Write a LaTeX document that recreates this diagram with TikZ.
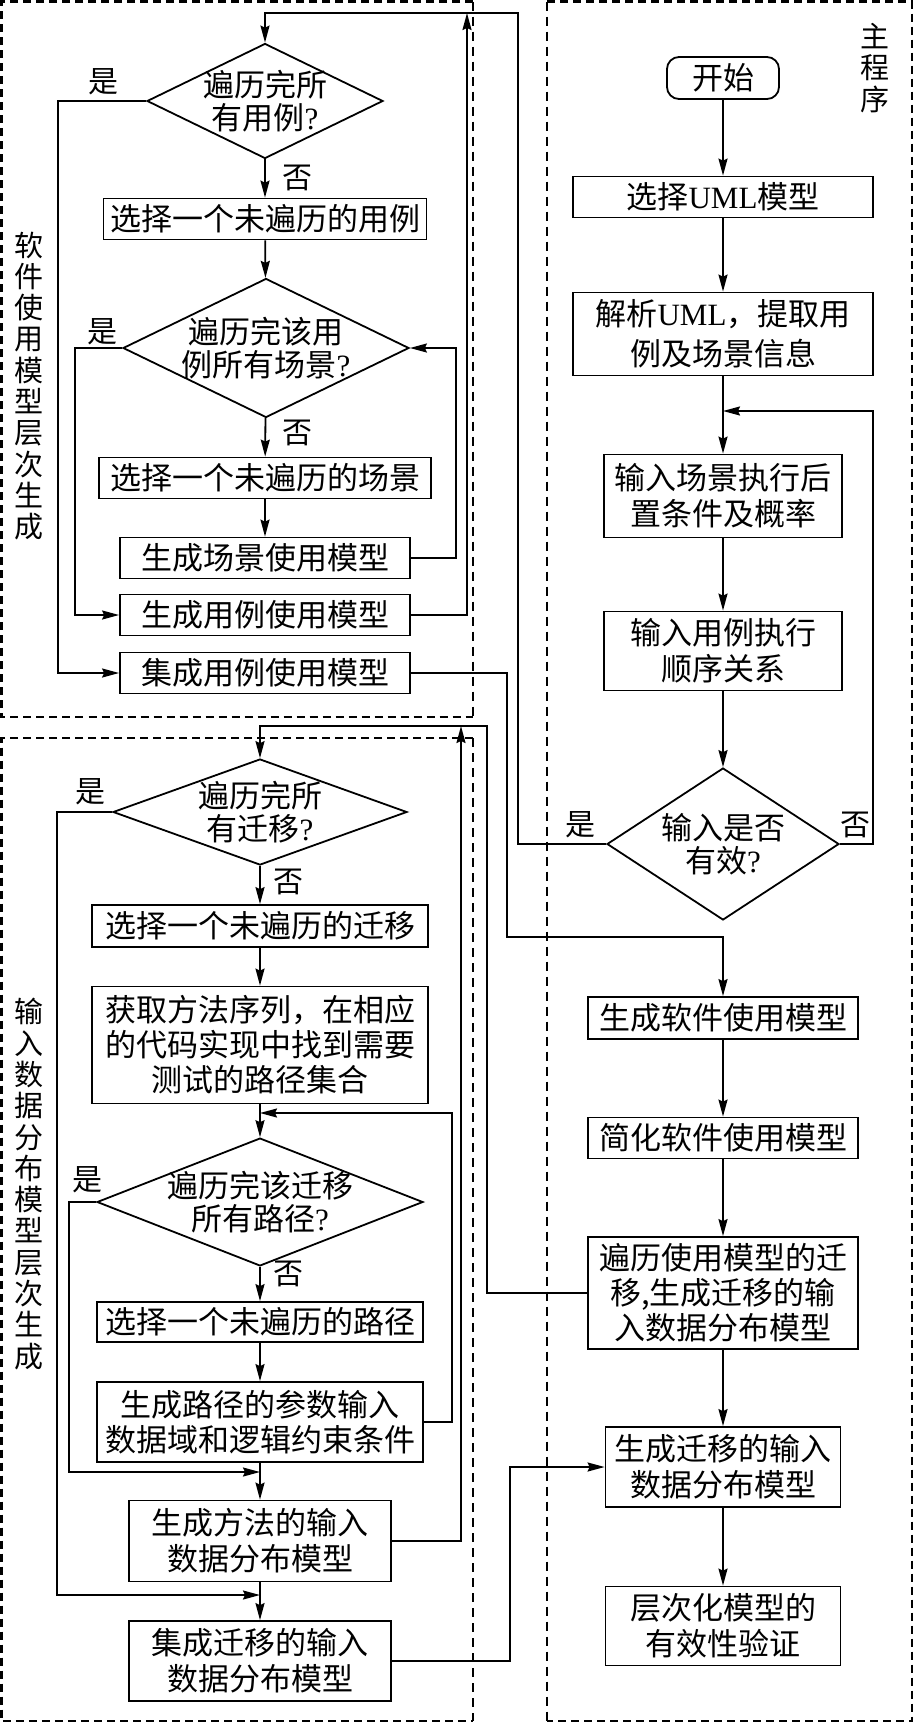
\documentclass[tikz,border=0pt]{standalone}
\usepackage{fontspec}
\setmainfont{Noto Sans CJK SC}
\newfontfamily\latinfont{Liberation Serif}
\usetikzlibrary{shapes.geometric,arrows.meta}
\newcommand{\qm}{{\latinfont ?}}

\begin{document}
\begin{tikzpicture}[x=1pt,y=-1pt,line width=1.8pt,
        >={Stealth[length=17pt,width=9pt,inset=2pt]},
        box/.style={draw,rectangle,inner sep=1pt,align=center,font=\fontsize{31}{36}\selectfont},
        startbox/.style={box,rounded corners=12pt},
        decision/.style={draw,diamond,inner sep=-30pt,align=center,font=\fontsize{31}{33}\selectfont},
        yesno/.style={inner sep=0pt,font=\fontsize{30}{30}\selectfont},
        sidetext/.style={inner sep=0pt,align=center,font=\fontsize{29}{31.3}\selectfont},
        framethick/.style={line width=2.4pt,dash pattern=on 8pt off 5pt},
        framethin/.style={line width=1.4pt,dash pattern=on 9pt off 6pt}]
        \useasboundingbox (0,0) rectangle (915,1725);
        % Draw the dashed frames
        \draw[framethick] (473,1.5) -- (1.5,1.5) -- (1.5,717) -- (473,717);
        \draw[framethin] (473,1.5) -- (473,717);
        \draw[framethick] (473,738) -- (1.5,738) -- (1.5,1721) -- (473,1721);
        \draw[framethin] (473,738) -- (473,1721);
        \draw[framethick] (547,1.5) -- (912,1.5) -- (912,1721) -- (547,1721);
        \draw[framethin] (547,1.5) -- (547,1721);
        % Draw the frame titles
        \node[sidetext] (title1) at (29,386) {软\\件\\使\\用\\模\\型\\层\\次\\生\\成};
        \node[sidetext] (title2) at (29,1184) {输\\入\\数\\据\\分\\布\\模\\型\\层\\次\\生\\成};
        \node[sidetext] (title3) at (875,68) {主\\程\\序};
        % Draw the main program
        \node[startbox,minimum width=112,minimum height=42] (start) at (723,78) {开始};
        \node[box,minimum width=300,minimum height=41] (r1) at (723,197) {选择{\latinfont UML}模型};
        \node[box,minimum width=300,minimum height=83,font=\fontsize{31}{40}\selectfont] (r2) at (723,334) {解析{\latinfont UML}，提取用\\例及场景信息};
        \node[box,minimum width=238,minimum height=83] (r3) at (723,496) {输入场景执行后\\置条件及概率};
        \node[box,minimum width=238,minimum height=79] (r4) at (723,651) {输入用例执行\\顺序关系};
        \node[decision,minimum width=232,minimum height=152] (d5) at (723,844) {输入是否\\有效\qm};
        \node[box,minimum width=270,minimum height=42] (r5) at (723,1018) {生成软件使用模型};
        \node[box,minimum width=270,minimum height=41] (r6) at (723,1138) {简化软件使用模型};
        \node[box,minimum width=270,minimum height=112,font=\fontsize{31}{35}\selectfont] (r7) at (723,1293) {遍历使用模型的迁\\移,生成迁移的输\\入数据分布模型};
        \node[box,minimum width=235,minimum height=80] (r8) at (723,1467) {生成迁移的输入\\数据分布模型};
        \node[box,minimum width=235,minimum height=79] (r9) at (723,1626) {层次化模型的\\有效性验证};
        % Draw the use case loop
        \node[decision,minimum width=236,minimum height=115] (d1) at (265,101) {遍历完所\\有用例\qm};
        \node[box,minimum width=323,minimum height=41] (s1) at (265,219) {选择一个未遍历的用例};
        \node[decision,minimum width=286,minimum height=139] (d2) at (266,348) {遍历完该用\\例所有场景\qm};
        \node[box,minimum width=332,minimum height=41] (s2) at (265,478) {选择一个未遍历的场景};
        \node[box,minimum width=290,minimum height=41] (g1) at (265,558) {生成场景使用模型};
        \node[box,minimum width=290,minimum height=41] (g2) at (265,615) {生成用例使用模型};
        \node[box,minimum width=290,minimum height=41] (j1) at (265,673) {集成用例使用模型};
        % Draw the transition loop
        \node[decision,minimum width=294,minimum height=106] (d3) at (260,812) {遍历完所\\有迁移\qm};
        \node[box,minimum width=336,minimum height=42] (s3) at (260,926) {选择一个未遍历的迁移};
        \node[box,minimum width=336,minimum height=117,font=\fontsize{31}{35}\selectfont] (p1) at (260,1045) {获取方法序列，在相应\\的代码实现中找到需要\\测试的路径集合};
        \node[decision,minimum width=326,minimum height=117] (d4) at (260,1202) {遍历完该迁移\\所有路径\qm};
        \node[box,minimum width=326,minimum height=40] (s4) at (260,1322) {选择一个未遍历的路径};
        \node[box,minimum width=326,minimum height=80,font=\fontsize{31}{35}\selectfont] (g3) at (260,1422) {生成路径的参数输入\\数据域和逻辑约束条件};
        \node[box,minimum width=262,minimum height=81] (g4) at (260,1541) {生成方法的输入\\数据分布模型};
        \node[box,minimum width=262,minimum height=80] (j2) at (260,1661) {集成迁移的输入\\数据分布模型};
        % Junction points
        \coordinate (m1) at (723,411);
        \coordinate (toprail) at (265,13);
        \coordinate (rail1) at (467,13);
        \coordinate (bend1) at (723,937);
        \coordinate (rail2) at (260,726);
        \coordinate (rail3) at (461,726);
        \coordinate (m2) at (260,1113);
        \coordinate (m3) at (260,1472);
        \coordinate (m4) at (260,1595);
        % Main program arrows
        \draw[->] (start) -- (r1);
        \draw[->] (r1) -- (r2);
        \draw[->] (r2) -- (r3);
        \draw[->] (r3) -- (r4);
        \draw[->] (r4) -- (d5);
        \draw[->] (d5.east) -- ++(33,0) |- (m1);
        \draw[->] (d5.west) -- ++(-88,0) |- (toprail) -- (d1.north);
        \node[yesno] (yes5) at (580,825) {是};
        \node[yesno] (no5) at (855,825) {否};
        \draw[->] (j1.east) -- ++(96,0) |- (bend1) -- (r5);
        \draw[->] (r5) -- (r6);
        \draw[->] (r6) -- (r7);
        \draw[->] (r7) -- (r8);
        \draw[->] (r8) -- (r9);
        % Use case loop arrows
        \draw[->] (d1) -- (s1);
        \draw[->] (s1) -- (d2);
        \draw[->] (d2) -- (s2);
        \draw[->] (s2) -- (s2 |- g1.north);
        \draw[->] (g1.east) -- ++(45,0) |- (d2.east);
        \draw[->] (g2.east) -| (rail1);
        \draw[->] (d1.west) -- ++(-88,0) |- (j1.west);
        \draw[->] (d2.west) -- ++(-47,0) |- (g2.west);
        \node[yesno] (yes1) at (103,82) {是};
        \node[yesno] (no1) at (297,178) {否};
        \node[yesno] (yes2) at (102,332) {是};
        \node[yesno] (no2) at (297,433) {否};
        % Transition loop arrows
        \draw[->] (r7.west) -- ++(-100,0) |- (rail2) -- (d3);
        \draw[->] (d3) -- (s3);
        \draw[->] (s3) -- (p1);
        \draw[->] (p1) -- (d4);
        \draw[->] (d4) -- (s4);
        \draw[->] (s4) -- (g3);
        \draw[->] (g3) -- (g4);
        \draw[->] (g4) -- (j2);
        \draw[->] (g3.east) -- ++(28,0) |- (m2);
        \draw[->] (g4.east) -| (rail3);
        \draw[->] (d4.west) -- ++(-27,0) |- (m3);
        \draw[->] (d3.west) -- ++(-55,0) |- (m4);
        \draw[->] (j2.east) -- ++(118,0) |- (r8.west);
        \node[yesno] (yes3) at (90,792) {是};
        \node[yesno] (no3) at (288,882) {否};
        \node[yesno] (yes4) at (87,1180) {是};
        \node[yesno] (no4) at (288,1274) {否};
    \end{tikzpicture}
\end{document}
